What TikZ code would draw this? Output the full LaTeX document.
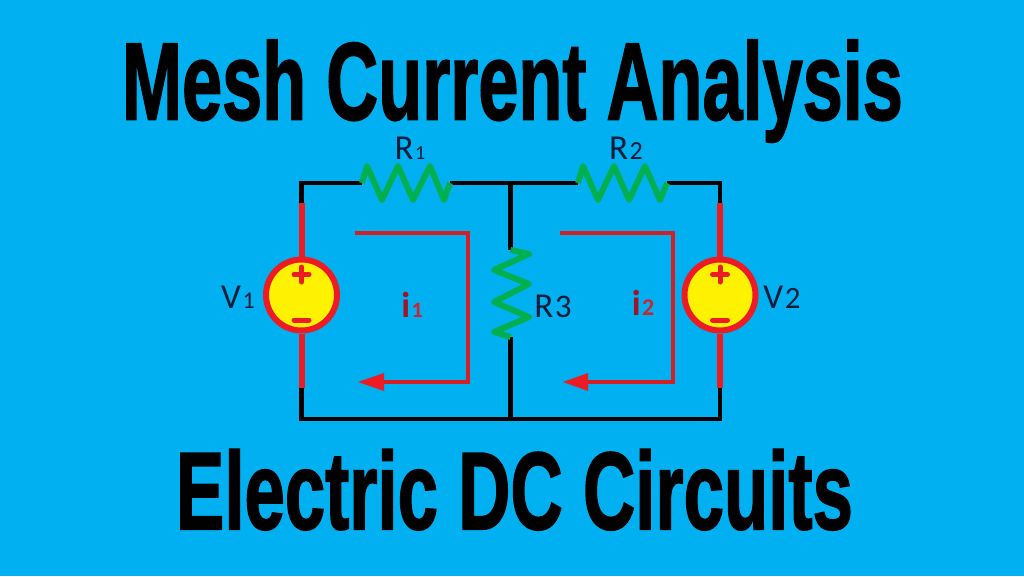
\documentclass[tikz,border=0pt]{standalone}
\usepackage{fontspec}
\usepackage{graphicx}
\setmainfont{Carlito}
\newfontfamily\titlefont[FakeBold=1.8]{Liberation Sans Bold}
\definecolor{bg}{RGB}{0,176,240}
\definecolor{grn}{RGB}{0,176,80}
\definecolor{redw}{RGB}{237,28,36}
\definecolor{loopr}{RGB}{214,30,38}
\definecolor{navy}{RGB}{0,30,60}
\definecolor{dred}{RGB}{160,20,40}
\definecolor{mred}{RGB}{205,35,50}
\tikzset{
  wire/.style={draw=black,line width=4.6pt,line cap=butt,line join=miter},
  redwire/.style={draw=redw,line width=6pt},
  res/.style={draw=grn,line width=6pt,line join=round},
  loopline/.style={draw=loopr,line width=4pt,line join=miter},
  source/.style={circle,draw=redw,fill=yellow,line width=6pt,minimum size=71pt,inner sep=0pt},
  lab/.style={text=navy,font=\fontsize{35}{35}\selectfont,inner sep=0pt,anchor=base},
  curlab/.style={text=dred,font=\fontsize{36}{36}\bfseries\selectfont,inner sep=0pt,anchor=base},
  title/.style={inner sep=0pt,anchor=base,text=black},
}
\newcommand{\sm}[2]{{\fontsize{#1}{#1}\selectfont\kern1.5pt #2}}
\newcommand{\bigtitle}[2]{\resizebox{#1}{\height}{\fontsize{110}{110}\titlefont\raisebox{0pt}[\height][0pt]{#2}}}
\begin{document}
\begin{tikzpicture}[x=1pt,y=-1pt]
\path[use as bounding box,fill=bg] (0,0) rectangle (1024,576);
\node[title] (t1) at (512.5,119.5) {\bigtitle{781pt}{Mesh Current Analysis}};
\node[title] (t2) at (514.5,529) {\bigtitle{677pt}{Electric DC Circuits}};
% junctions
\coordinate (tl) at (301.5,183);
\coordinate (tm) at (510.5,183);
\coordinate (tr) at (720,183);
\coordinate (bl) at (301.5,419);
\coordinate (bm) at (510.5,419);
\coordinate (br) at (720,419);
\coordinate (r1a) at (362,183); \coordinate (r1b) at (450,183);
\coordinate (r2a) at (578,183); \coordinate (r2b) at (667,183);
\coordinate (r3a) at (510.5,250); \coordinate (r3b) at (510.5,337);
\coordinate (v1a) at (301.5,203); \coordinate (v1b) at (301.5,388);
\coordinate (v2a) at (720,203); \coordinate (v2b) at (720,388);
% black wires
\draw[wire] (v1a) -- (tl) -- (r1a);
\draw[wire] (r1b) -- (r2a);
\draw[wire] (r2b) -- (tr) -- (v2a);
\draw[wire] (v1b) -- (bl) -- (br) -- (v2b);
\draw[wire] (tm) -- (r3a);
\draw[wire] (r3b) -- (bm);
% resistors
\draw[res] (r1a) -- (367,166) -- (382,200) -- (398,166) -- (413,200) -- (430,166) -- (444,200) -- (r1b);
\draw[res] (r2a) -- (583,166) -- (598,200) -- (614,166) -- (629,200) -- (645,166) -- (660,200) -- (r2b);
\draw[res] (r3a) -- (529,254) -- (494,270) -- (529,284) -- (494,302) -- (529,317) -- (494,332) -- (r3b);
% sources
\node[source] (V1) at (301.5,295) {};
\node[source] (V2) at (720,295) {};
\draw[redwire] (v1a) -- (V1);
\draw[redwire] (V1) -- (v1b);
\draw[redwire] (v2a) -- (V2);
\draw[redwire] (V2) -- (v2b);
\foreach \s in {V1,V2}{
  \draw[draw=redw,line width=5pt,line cap=round] ([shift={(-7.5,-20.5)}]\s.center) -- ([shift={(7.5,-20.5)}]\s.center);
  \draw[draw=redw,line width=5pt,line cap=round] ([shift={(0,-28)}]\s.center) -- ([shift={(0,-13)}]\s.center);
  \draw[draw=redw,line width=5pt,line cap=round] ([shift={(-7.5,25)}]\s.center) -- ([shift={(7.5,25)}]\s.center);
}
% mesh currents
\coordinate (l1a) at (355,233); \coordinate (l1b) at (468,233); \coordinate (l1c) at (468,382); \coordinate (l1d) at (384,382);
\coordinate (l2a) at (560,233); \coordinate (l2b) at (673,233); \coordinate (l2c) at (673,382); \coordinate (l2d) at (588,382);
\draw[loopline] (l1a) -- (l1b) -- (l1c) -- (l1d);
\draw[loopline] (l2a) -- (l2b) -- (l2c) -- (l2d);
\fill[redw] (358,382) -- (384,373) -- (384,391) -- cycle;
\fill[redw] (563,382) -- (588,373) -- (588,391) -- cycle;
% labels
\node[lab] (lr1) at (410,159) {R\sm{20}{1}};
\node[lab] (lr2) at (626,159) {R\sm{26}{2}};
\node[lab] (lr3) at (553,317) {R\sm{33}{3}};
\node[lab] (lv1) at (238,308) {V\sm{24}{1}};
\node[lab] (lv2) at (782,308) {V\sm{31}{2}};
\node[curlab] (li1) at (412,317) {i\textcolor{mred}{\sm{22}{1}}};
\node[curlab] (li2) at (643,315) {i\textcolor{mred}{\sm{24}{2}}};
\end{tikzpicture}
\end{document}
